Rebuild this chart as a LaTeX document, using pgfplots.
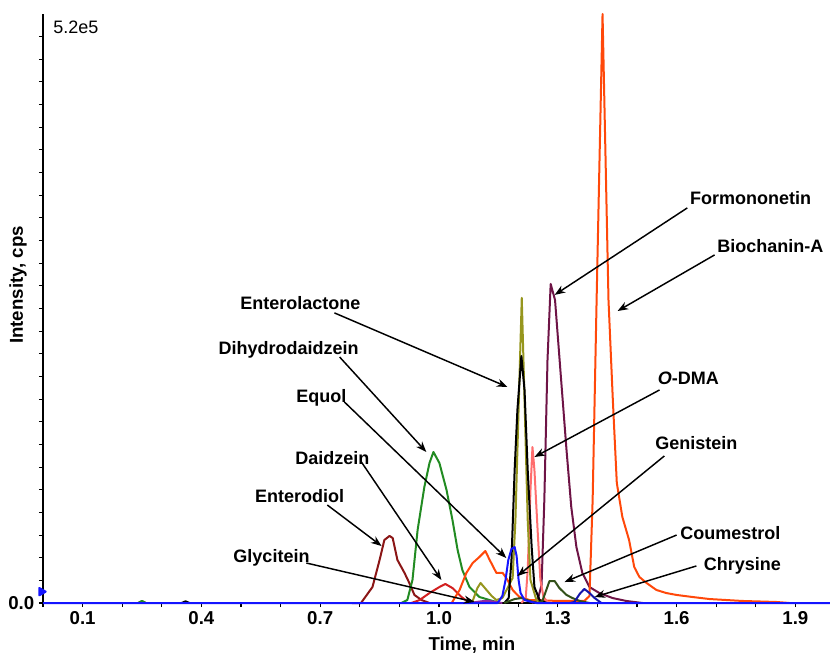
\documentclass[border=0pt]{standalone}
\usepackage{fontspec}
\setmainfont{Liberation Sans}
\usepackage{pgfplots}
\pgfplotsset{compat=1.18}
\usetikzlibrary{arrows.meta}

\definecolor{cMaroon}{RGB}{139,22,22}
\definecolor{cGreen}{RGB}{34,139,34}
\definecolor{cRed}{RGB}{210,32,32}
\definecolor{cOrange}{RGB}{255,72,10}
\definecolor{cOlive}{RGB}{150,150,30}
\definecolor{cBlue}{RGB}{20,20,255}
\definecolor{cPink}{RGB}{255,110,110}
\definecolor{cPurple}{RGB}{110,20,70}
\definecolor{cDkGreen}{RGB}{50,80,25}
\definecolor{cNavy}{RGB}{20,20,170}
\definecolor{cViolet}{RGB}{140,40,160}

\begin{document}
\begin{tikzpicture}
\path[use as bounding box] (-32.25pt,-39.75pt) rectangle (590.25pt,452.25pt);
\begin{axis}[
    scale only axis,
    width=590.25pt, height=441.75pt,
    xmin=0, xmax=1.9874,
    ymin=0, ymax=520000,
    clip=false,
    axis x line*=bottom, axis y line*=left,
    axis line style={black, line width=1.3pt},
    xtick={0.1,0.4,0.7,1.0,1.3,1.6,1.9},
    xticklabels={0.1,0.4,0.7,1.0,1.3,1.6,1.9},
    minor xtick={0,0.2,0.3,0.5,0.6,0.8,0.9,1.1,1.2,1.4,1.5,1.7,1.8},
    ytick={0}, yticklabels={0.0},
    minor ytick={20000,40000,...,500000},
    scaled y ticks=false,
    tick align=outside,
    major tick length=3pt, minor tick length=3pt,
    tick style={black, line width=0.8pt},
    ticklabel style={font=\fontsize{14}{16}\selectfont\bfseries},
    /pgf/number format/assume math mode=true,
    xlabel={Time, min}, ylabel={Intensity, cps},
    label style={font=\fontsize{14}{16}\selectfont\bfseries},
    xlabel style={at={(axis description cs:0.545,-0.0713)}, anchor=center},
    ylabel style={at={(axis description cs:-0.0318,0.54)}, anchor=center},
    every axis plot/.append style={line width=1.5pt, line join=round},
]
% Enterodiol
\addplot[cMaroon] coordinates {
 (0.24,0) (0.25,1500) (0.26,0)};
\addplot[cMaroon] coordinates {
 (0.78,0) (0.803,0) (0.832,14100) (0.850,38000) (0.862,55600) (0.875,59200)
 (0.883,57400) (0.895,38000) (0.913,26500) (0.925,17700) (0.938,7100)
 (0.956,2600) (0.976,0)};
% Dihydrodaidzein
\addplot[cGreen] coordinates {
 (0.24,0) (0.25,1800) (0.26,0)};
\addplot[cGreen] coordinates {
 (0.905,0) (0.920,2600) (0.933,20300) (0.946,64500) (0.963,102400)
 (0.976,123600) (0.986,133300) (1.001,123600) (1.019,99800) (1.034,73300)
 (1.047,46800) (1.059,29100) (1.077,14100) (1.102,5300) (1.128,2600) (1.153,0)};
% Daidzein
\addplot[cRed] coordinates {
 (0.930,0) (0.951,2600) (0.976,8800) (1.001,14100) (1.016,16800)
 (1.034,13200) (1.057,5300) (1.077,0)};
% Glycitein
\addplot[cViolet] coordinates {
 (1.08,0) (1.10,1200) (1.12,2000) (1.14,1200) (1.16,0)};
% Purple (Formononetin)
\addplot[cPurple] coordinates {
 (1.234,0) (1.249,2600) (1.259,15900) (1.266,91000) (1.274,214600)
 (1.282,281700) (1.293,267500) (1.309,194300) (1.322,135100) (1.334,84800)
 (1.347,49400) (1.362,26500) (1.380,14100) (1.405,8800) (1.438,4400)
 (1.473,1800) (1.514,0)};
% Orange (Biochanin-A)
\addplot[cOrange] coordinates {
 (1.032,0) (1.052,11500) (1.069,26500) (1.085,35300) (1.102,40600)
 (1.117,45900) (1.128,38000) (1.145,26500) (1.161,26500) (1.173,20300)
 (1.186,11500) (1.203,5300) (1.229,2600) (1.304,1800) (1.367,1800)
 (1.380,6200) (1.388,91000) (1.398,267500) (1.413,520000) (1.428,267500)
 (1.439,179000) (1.449,106000) (1.463,76000) (1.480,55600) (1.493,31800)
 (1.506,23000) (1.524,17700) (1.549,11500) (1.574,8800) (1.600,7100)
 (1.640,5300) (1.683,3500) (1.766,1800) (1.852,900) (1.885,0)};
% Pink (O-DMA)
\addplot[cPink] coordinates {
 (1.208,0) (1.219,4400) (1.224,29100) (1.231,99800) (1.236,137700)
 (1.241,117400) (1.249,64500) (1.256,20300) (1.264,5300) (1.274,900) (1.284,0)};
% Olive (Genistein)
\addplot[cOlive] coordinates {
 (1.064,0) (1.085,1800) (1.097,13200) (1.105,17700) (1.120,11500)
 (1.133,6200) (1.145,2600) (1.160,4400) (1.173,13200) (1.186,22100)
 (1.193,73300) (1.209,269300) (1.216,179000) (1.224,73300) (1.231,20300)
 (1.246,2600) (1.266,0)};
% Black (Enterolactone)
\addplot[black] coordinates {
 (0.35,0) (0.36,1500) (0.37,0)};
\addplot[black] coordinates {
 (1.165,0) (1.176,4400) (1.183,38000) (1.191,117400) (1.198,170400)
 (1.208,218100) (1.216,188100) (1.224,117400) (1.234,49400) (1.241,14100)
 (1.254,2600) (1.272,0)};
% Dark green (Coumestrol)
\addplot[cDkGreen] coordinates {
 (1.165,0) (1.191,3500) (1.208,4400) (1.229,1800) (1.249,0) (1.261,1800)
 (1.271,11500) (1.279,19400) (1.292,19400) (1.304,13200) (1.322,7100)
 (1.337,4400) (1.355,1800) (1.380,0)};
% Navy (Chrysine)
\addplot[cNavy] coordinates {
 (1.330,0) (1.342,900) (1.355,7900) (1.367,12400) (1.380,8800)
 (1.393,4400) (1.410,0)};
% Blue (Equol) and baseline
\addplot[cBlue] coordinates {
 (0,0) (1.148,0) (1.160,6200) (1.168,20300) (1.175,38000) (1.183,47700)
 (1.191,49400) (1.196,41500) (1.201,20300) (1.206,8800) (1.216,2600)
 (1.234,900) (1.246,0) (1.9874,0)};
% marker on the y axis
\addplot[only marks, mark=triangle*, mark size=3.2pt, cBlue,
   mark options={rotate=-90}] coordinates {(-0.004,10000)};

% annotations
\tikzset{lbl/.style={font=\fontsize{13.5}{16}\selectfont\bfseries, inner sep=0pt, anchor=center},
         arr/.style={-{Stealth[length=8pt,width=6pt]}, line width=1.1pt, black}}
\node[font=\fontsize{13.5}{15}\selectfont, anchor=west, inner sep=0pt]
   at (rel axis cs:0.0127,0.977) {5.2e5};

\node[lbl] at (axis cs:1.787,357600) {Formononetin};
\draw[arr] (axis cs:1.627,348800) -- (axis cs:1.292,272000);
\node[lbl] at (axis cs:1.837,315200) {Biochanin-A};
\draw[arr] (axis cs:1.696,307300) -- (axis cs:1.451,257800);
\node[lbl] at (axis cs:0.650,264900) {Enterolactone};
\draw[arr] (axis cs:0.736,256100) -- (axis cs:1.173,190700);
\node[lbl] at (axis cs:0.620,223400) {Dihydrodaidzein};
\draw[arr] (axis cs:0.749,217200) -- (axis cs:0.968,133300);
\node[lbl] at (axis cs:0.703,181000) {Equol};
\draw[arr] (axis cs:0.761,177500) -- (axis cs:1.170,39700);
\node[lbl] at (axis cs:1.630,198700) {\textit{O}-DMA};
\draw[arr] (axis cs:1.557,188100) -- (axis cs:1.241,128900);
\node[lbl] at (axis cs:0.731,128000) {Daidzein};
\draw[arr] (axis cs:0.804,124500) -- (axis cs:1.006,20300);
\node[lbl] at (axis cs:1.650,141300) {Genistein};
\draw[arr] (axis cs:1.569,129800) -- (axis cs:1.198,23800);
\node[lbl] at (axis cs:0.648,94500) {Enterodiol};
\draw[arr] (axis cs:0.718,86500) -- (axis cs:0.855,50300);
\node[lbl] at (axis cs:1.736,61800) {Coumestrol};
\draw[arr] (axis cs:1.600,60000) -- (axis cs:1.317,18500);
\node[lbl] at (axis cs:0.577,39700) {Glycitein};
\draw[arr] (axis cs:0.665,35300) -- (axis cs:1.090,900);
\node[lbl] at (axis cs:1.766,32700) {Chrysine};
\draw[arr] (axis cs:1.650,32700) -- (axis cs:1.393,5300);
\end{axis}
\end{tikzpicture}
\end{document}
